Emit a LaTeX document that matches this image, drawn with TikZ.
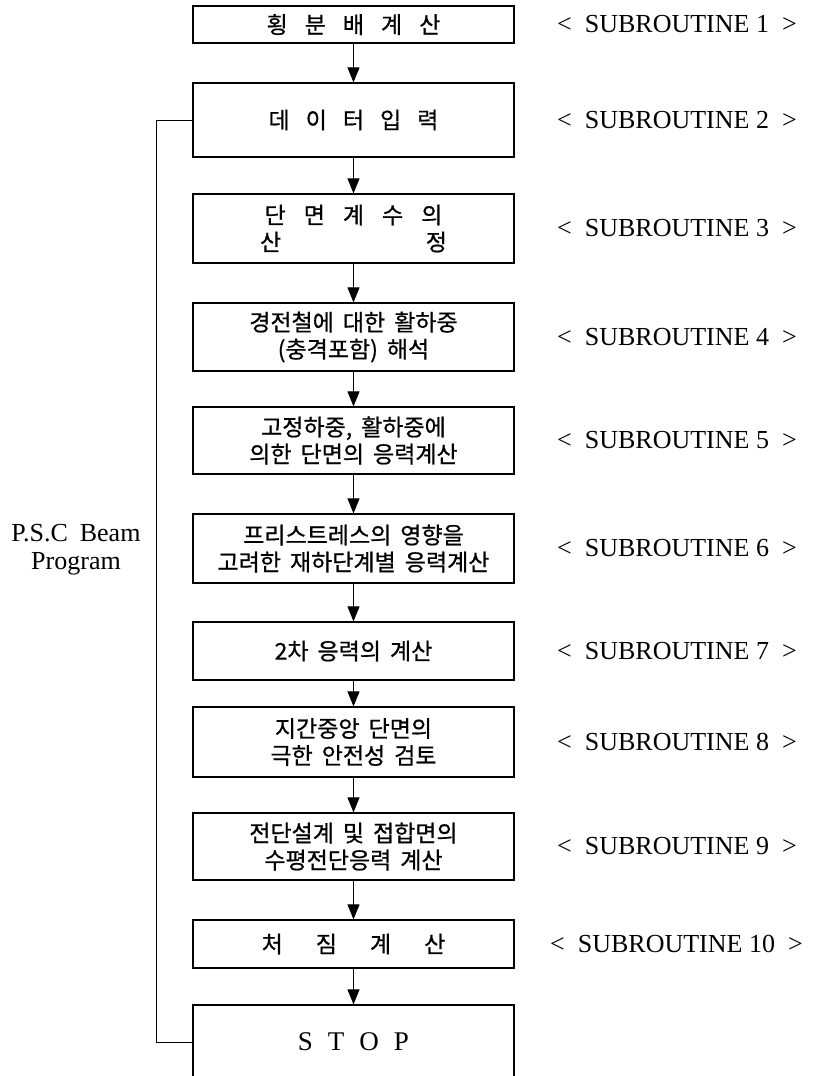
\documentclass[tikz,border=0pt]{standalone}
\usepackage{fontspec}
\setmainfont{Liberation Serif}
\newfontfamily\kr[FakeBold=0.7]{Noto Sans CJK KR}
\usetikzlibrary{arrows.meta}
\newcommand\kg{\hspace{9pt}}
\begin{document}
\begin{tikzpicture}[x=1pt,y=-1pt,
  box/.style={draw, line width=1.2pt, minimum width=321pt, inner sep=0pt,
    font=\kr\fontsize{23}{27}\selectfont, align=center},
  arr/.style={line width=0.9pt, -{Triangle[length=15pt,width=12pt]}},
  loopline/.style={line width=1pt},
  sub/.style={anchor=west, inner sep=0pt, font=\fontsize{26}{28}\selectfont},
  lbl/.style={inner sep=0pt, align=center, font=\fontsize{26}{28}\selectfont}]
\useasboundingbox (0,0) rectangle (812,1076);
\clip (0,0) rectangle (812,1076);
\fill[white] (0,0) rectangle (812,1076);

\node[box, minimum height=37pt] (b1) at (353.5,24.5) {횡\hspace{17pt}분\hspace{17pt}배\hspace{17pt}계\hspace{17pt}산};
\node[box, minimum height=74pt] (b2) at (353.5,120) {데\hspace{16pt}이\hspace{16pt}터\hspace{16pt}입\hspace{16pt}력};
\node[box, minimum height=69pt] (b3) at (353.5,228.5) {단\hspace{18pt}면\hspace{18pt}계\hspace{18pt}수\hspace{18pt}의\\\makebox[187pt]{산\hfill 정}};
\node[box, minimum height=68pt] (b4) at (353.5,337) {경전철에\kg 대한\kg 활하중\\(충격포함)\kg 해석};
\node[box, minimum height=67pt] (b5) at (353.5,440.5) {고정하중,\kg 활하중에\\의한\kg 단면의\kg 응력계산};
\node[box, minimum height=69pt] (b6) at (353.5,548.5) {프리스트레스의\kg 영향을\\고려한\kg 재하단계별\kg 응력계산};
\node[box, minimum height=58pt] (b7) at (353.5,651) {2차\kg 응력의\kg 계산};
\node[box, minimum height=70pt] (b8) at (353.5,742) {지간중앙\kg 단면의\\극한\kg 안전성\kg 검토};
\node[box, minimum height=67pt] (b9) at (353.5,846.5) {전단설계\kg 및\kg 접합면의\\수평전단응력\kg 계산};
\node[box, minimum height=48pt] (b10) at (353.5,944) {처\hspace{33pt}짐\hspace{33pt}계\hspace{33pt}산};
\node[box, minimum height=74pt, font=\fontsize{27}{28}\selectfont] (b11) at (353.5,1042) {S\hspace{15pt}T\hspace{15pt}O\hspace{15pt}P};

\draw[arr] (b1) -- (b2);
\draw[arr] (b2) -- (b3);
\draw[arr] (b3) -- (b4);
\draw[arr] (b4) -- (b5);
\draw[arr] (b5) -- (b6);
\draw[arr] (b6) -- (b7);
\draw[arr] (b7) -- (b8);
\draw[arr] (b8) -- (b9);
\draw[arr] (b9) -- (b10);
\draw[arr] (b10) -- (b11);

\coordinate (lt) at (156,120);
\draw[loopline] (b2.west) -- (lt) |- (b11.west);

\node[lbl] (psc) at (76,550) {P.S.C\hspace{12pt}Beam\\Program};

\node[sub] (s1) at (557,24.5) {<\hspace{13pt}SUBROUTINE 1\hspace{13pt}>};
\node[sub] (s2) at (557,120) {<\hspace{13pt}SUBROUTINE 2\hspace{13pt}>};
\node[sub] (s3) at (557,228.5) {<\hspace{13pt}SUBROUTINE 3\hspace{13pt}>};
\node[sub] (s4) at (557,337) {<\hspace{13pt}SUBROUTINE 4\hspace{13pt}>};
\node[sub] (s5) at (557,440.5) {<\hspace{13pt}SUBROUTINE 5\hspace{13pt}>};
\node[sub] (s6) at (557,548.5) {<\hspace{13pt}SUBROUTINE 6\hspace{13pt}>};
\node[sub] (s7) at (557,651) {<\hspace{13pt}SUBROUTINE 7\hspace{13pt}>};
\node[sub] (s8) at (557,742) {<\hspace{13pt}SUBROUTINE 8\hspace{13pt}>};
\node[sub] (s9) at (557,846.5) {<\hspace{13pt}SUBROUTINE 9\hspace{13pt}>};
\node[sub] (s10) at (550,944) {<\hspace{13pt}SUBROUTINE 10\hspace{13pt}>};
\end{tikzpicture}
\end{document}
